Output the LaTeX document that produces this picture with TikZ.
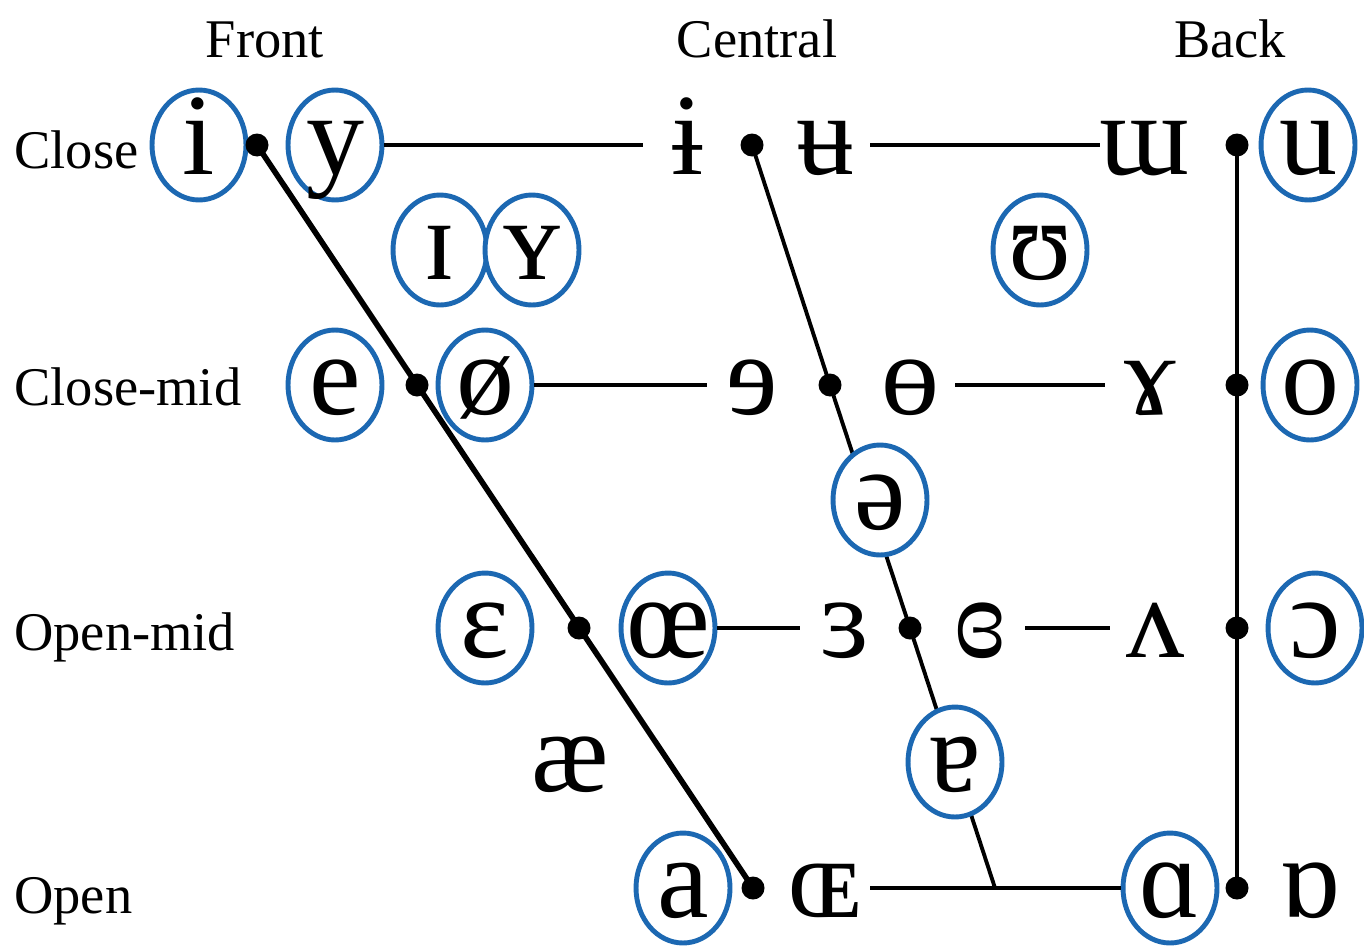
\documentclass[tikz,border=0pt]{standalone}
\usepackage{fontspec}
\setmainfont{Liberation Serif}
\newfontfamily\ipafont{Liberation Serif}
\usetikzlibrary{shapes.geometric}

\definecolor{ringblue}{RGB}{28,104,178}

\tikzset{
  heading/.style={font=\fontsize{31}{31}\selectfont, inner sep=0pt},
  vowel/.style={font=\ipafont\fontsize{66}{66}\selectfont, text height=34pt, text depth=0pt,
    inner xsep=0.9cm, inner ysep=0pt, fill=white},
  ringed/.style={vowel, ellipse, draw=ringblue, line width=2.8pt, inner sep=0pt,
    minimum width=1.88cm, minimum height=2.2cm},
  chartline/.style={line width=2.2pt, black},
}
\newcommand{\vw}[1]{\makebox[0pt]{#1}}

\begin{document}
\begin{tikzpicture}[x=0.02cm, y=-0.02cm]
  % Page size of the chart
  \useasboundingbox (0,0) rectangle (1364,950);

  % Column and row headings
  \node[heading, anchor=base] (front) at (265,57) {Front};
  \node[heading, anchor=base] (central) at (757,57) {Central};
  \node[heading, anchor=base] (back) at (1230,57) {Back};
  \node[heading, anchor=base west] (close) at (14,168) {Close};
  \node[heading, anchor=base west] (closemid) at (14,405) {Close-mid};
  \node[heading, anchor=base west] (openmid) at (14,650) {Open-mid};
  \node[heading, anchor=base west] (open) at (14,913) {Open};

  % Points on the three chart lines
  \coordinate (f1) at (257,145);
  \coordinate (f2) at (417,385);
  \coordinate (f3) at (579,628);
  \coordinate (f4) at (753,888);
  \coordinate (c1) at (752,145);
  \coordinate (c2) at (830,385);
  \coordinate (c3) at (910,628);
  \coordinate (c4) at (995,888);
  \coordinate (b1) at (1237,145);
  \coordinate (b2) at (1237,385);
  \coordinate (b3) at (1237,628);
  \coordinate (b4) at (1237,888);

  % Draw the front, central and back lines
  \draw[chartline, line width=3.2pt] (f1) -- (f4);
  \draw[chartline] (c1) -- (c2) -- (c3) -- (c4);
  \draw[chartline] (b1) -- (b4);

  % Close row
  \node[ringed] (i) at (199,145) {\vw{i}};
  \node[ringed] (y) at (335,145) {\vw{y}};
  \node[vowel] (ibar) at (688,145) {\vw{ɨ}};
  \node[vowel] (ubar) at (825,145) {\vw{ʉ}};
  \node[vowel] (turnm) at (1145,145) {\vw{ɯ}};
  \node[ringed] (u) at (1308,145) {\vw{u}};

  % Near-close
  \node[ringed] (capi) at (440,250) {\vw{ɪ}};
  \node[ringed] (capy) at (532,250) {\vw{ʏ}};
  \node[ringed] (upsilon) at (1040,250) {\vw{ʊ}};

  % Close-mid row
  \node[ringed] (e) at (335,385) {\vw{e}};
  \node[ringed] (oslash) at (485,385) {\vw{ø}};
  \node[vowel] (reve) at (752,385) {\vw{ɘ}};
  \node[vowel] (baro) at (910,385) {\vw{ɵ}};
  \node[vowel] (ramshorn) at (1150,385) {\vw{ɤ}};
  \node[ringed] (o) at (1310,385) {\vw{o}};

  % Mid
  \node[ringed] (schwa) at (880,500) {\vw{ə}};

  % Open-mid row
  \node[ringed] (eps) at (485,628) {\vw{ɛ}};
  \node[ringed] (oe) at (668,628) {\vw{œ}};
  \node[vowel] (reveps) at (845,628) {\vw{ɜ}};
  \node[vowel] (closedeps) at (980,628) {\vw{ɞ}};
  \node[vowel] (wedge) at (1155,628) {\vw{ʌ}};
  \node[ringed] (openo) at (1315,628) {\vw{ɔ}};

  % Near-open
  \node[vowel] (ash) at (570,762) {\vw{æ}};
  \node[ringed] (turna) at (955,762) {\vw{ɐ}};

  % Open row
  \node[ringed] (a) at (683,888) {\vw{a}};
  \node[vowel] (capoe) at (825,888) {\vw{ɶ}};
  \node[ringed] (alpha) at (1170,888) {\vw{ɑ}};
  \node[vowel] (turnalpha) at (1310,888) {\vw{ɒ}};

  % Horizontal links between rounded and unrounded pairs
  \draw[chartline] (y) -- (ibar);
  \draw[chartline] (ubar) -- (turnm);
  \draw[chartline] (oslash) -- (reve);
  \draw[chartline] (baro) -- (ramshorn);
  \draw[chartline] (oe) -- (reveps);
  \draw[chartline] (closedeps) -- (wedge);
  \draw[chartline] (capoe) -- (alpha);

  % Dots
  \foreach \p in {f1,f2,f3,f4,c1,c2,c3,b1,b2,b3,b4}
    \fill (\p) circle (0.23cm);
\end{tikzpicture}
\end{document}
